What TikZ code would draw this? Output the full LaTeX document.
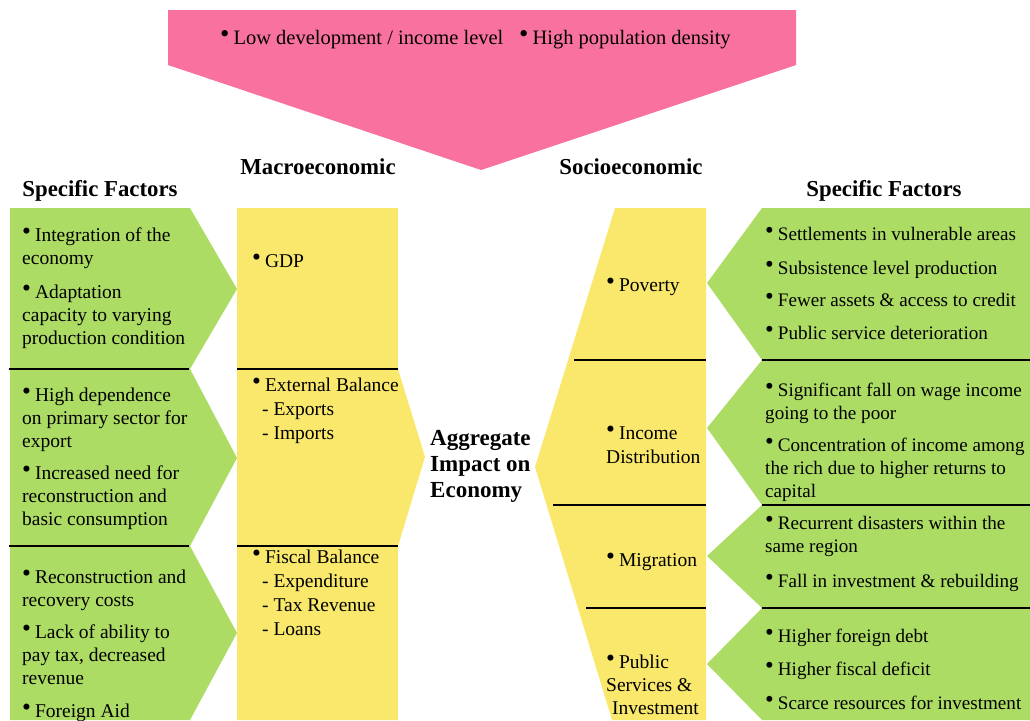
\documentclass[tikz,border=0pt]{standalone}
\usepackage{fontspec}
\setmainfont{Liberation Serif}
\definecolor{pinkc}{HTML}{F8719F}
\definecolor{greenc}{HTML}{ADDC64}
\definecolor{yellowc}{HTML}{F9E86B}
\newcommand{\bul}{\raisebox{1.5pt}{\scalebox{1.3}{\textbullet}}\hspace{4pt}}
\newcommand{\ml}[1]{\begin{tabular}[t]{@{}l@{}}#1\end{tabular}}
\begin{document}
\begin{tikzpicture}[x=1pt,y=-1pt,
  txt/.style={anchor=base west, inner sep=0pt, font=\fontsize{19.5}{23}\selectfont},
  rtxt/.style={txt, font=\fontsize{19.1}{23}\selectfont},
  head/.style={anchor=base, inner sep=0pt, font=\bfseries\fontsize{22.8}{26}\selectfont},
  sepline/.style={line width=1.6pt, black}]
\useasboundingbox (0,0) rectangle (1030,720);
% top pink arrow
\fill[pinkc] (168,10) -- (796,10) -- (796,65) -- (481,170) -- (168,65) -- cycle;
% left green chevrons
\fill[greenc] (10,208) -- (190,208) -- (237,289) -- (190,369) -- (10,369) -- cycle;
\fill[greenc] (10,369) -- (190,369) -- (237,458) -- (190,546) -- (10,546) -- cycle;
\fill[greenc] (10,546) -- (190,546) -- (237,633) -- (190,720) -- (10,720) -- cycle;
\draw[sepline] (9,369) -- (189,369);
\draw[sepline] (9,546) -- (189,546);
% macroeconomic column
\fill[yellowc] (237,208) -- (398,208) -- (398,369) -- (425,457) -- (398,546) -- (398,720) -- (237,720) -- cycle;
\draw[sepline] (237,369) -- (398,369);
\draw[sepline] (237,546) -- (398,546);
% socioeconomic column
\fill[yellowc] (615,208) -- (706,208) -- (706,720) -- (612,720) -- (535,467) -- cycle;
\draw[sepline] (574,360) -- (706,360);
\draw[sepline] (553,505) -- (706,505);
\draw[sepline] (586,608) -- (706,608);
% right green chevrons
\fill[greenc] (762,208) -- (1030,208) -- (1030,360) -- (762,360) -- (707,283) -- cycle;
\fill[greenc] (762,360) -- (1030,360) -- (1030,505) -- (762,505) -- (707,428) -- cycle;
\fill[greenc] (762,505) -- (1030,505) -- (1030,608) -- (762,608) -- (707,556) -- cycle;
\fill[greenc] (762,608) -- (1030,608) -- (1030,720) -- (762,720) -- (707,664) -- cycle;
\draw[sepline] (762,360) -- (1030,360);
\draw[sepline] (762,505) -- (1030,505);
\draw[sepline] (762,608) -- (1030,608);
% pink text
\node[txt, font=\fontsize{20.5}{24}\selectfont] (p1) at (220,44) {\bul Low development / income level};
\node[txt, font=\fontsize{20.5}{24}\selectfont] (p2) at (519,44) {\bul High population density};
% headings
\node[head] (hl) at (100,196) {Specific Factors};
\node[head] (hm) at (318,174) {Macroeconomic};
\node[head] (hs) at (631,174) {Socioeconomic};
\node[head] (hr) at (884,196) {Specific Factors};
% left texts
\node[txt] (l1) at (22,241) {\ml{\bul Integration of the\\economy}};
\node[txt] (l2) at (22,298) {\ml{\bul Adaptation\\capacity to varying\\production condition}};
\node[txt] (l3) at (22,401) {\ml{\bul High dependence\\on primary sector for\\export}};
\node[txt] (l4) at (22,479) {\ml{\bul Increased need for\\reconstruction and\\basic consumption}};
\node[txt] (l5) at (22,583) {\ml{\bul Reconstruction and\\recovery costs}};
\node[txt] (l6) at (22,638) {\ml{\bul Lack of ability to\\pay tax, decreased\\revenue}};
\node[txt] (l7) at (22,717) {\bul Foreign Aid};
% macro texts
\node[txt] (m1) at (252,267) {\bul GDP};
\node[txt, font=\fontsize{19.5}{24}\selectfont] (m2) at (252,391) {\ml{\bul External Balance\\\hspace{10pt}- Exports\\\hspace{10pt}- Imports}};
\node[txt, font=\fontsize{19.5}{24}\selectfont] (m3) at (252,563) {\ml{\bul Fiscal Balance\\\hspace{10pt}- Expenditure\\\hspace{10pt}- Tax Revenue\\\hspace{10pt}- Loans}};
% aggregate
\node[txt, font=\bfseries\fontsize{23}{26}\selectfont] (agg) at (430,445) {\ml{Aggregate\\Impact on\\Economy}};
% socio texts
\node[txt] (s1) at (606,291) {\bul Poverty};
\node[txt, font=\fontsize{19.5}{24}\selectfont] (s2) at (606,439) {\ml{\bul Income\\Distribution}};
\node[txt] (s3) at (606,566) {\bul Migration};
\node[txt] (s4) at (606,668) {\ml{\bul Public\\Services \&\\\hspace{6pt}Investment}};
% right texts
\node[rtxt] (r1) at (765,240) {\bul Settlements in vulnerable areas};
\node[rtxt] (r2) at (765,274) {\bul Subsistence level production};
\node[rtxt] (r3) at (765,306) {\bul Fewer assets \& access to credit};
\node[rtxt] (r4) at (765,339) {\bul Public service deterioration};
\node[rtxt] (r5) at (765,396) {\ml{\bul Significant fall on wage income\\going to the poor}};
\node[rtxt] (r6) at (765,451) {\ml{\bul Concentration of income among\\the rich due to higher returns to\\capital}};
\node[rtxt] (r7) at (765,529) {\ml{\bul Recurrent disasters within the\\same region}};
\node[rtxt] (r8) at (765,587) {\bul Fall in investment \& rebuilding};
\node[rtxt] (r9) at (765,642) {\bul Higher foreign debt};
\node[rtxt] (r10) at (765,675) {\bul Higher fiscal deficit};
\node[rtxt] (r11) at (765,709) {\bul Scarce resources for investment};
\end{tikzpicture}
\end{document}
